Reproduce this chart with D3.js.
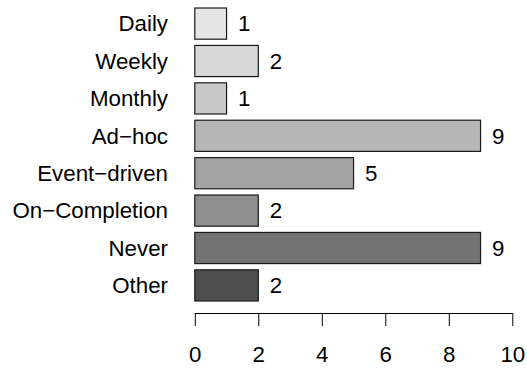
<!DOCTYPE html>
<html><head><meta charset="utf-8">
<script src="https://cdn.jsdelivr.net/npm/d3@7"></script>
<style>body{margin:0;background:#fff}svg{display:block}text{font-family:"Liberation Sans",Arial,sans-serif;fill:#000}</style>
</head><body>
<script>
const categories = ["Daily","Weekly","Monthly","Ad\u2212hoc","Event\u2212driven","On\u2212Completion","Never","Other"];
const counts = [1,2,1,9,5,2,9,2];
const fills = ["#E6E6E6","#D7D7D7","#C8C8C8","#B7B7B7","#A4A4A4","#8E8E8E","#737373","#4D4D4D"];
const tickValues = [0,2,4,6,8,10];

const W=527,H=369,FS=22.3;
const svg=d3.select("body").append("svg").attr("width",W).attr("height",H);
const x=d3.scaleLinear().domain([0,10]).range([194.8,512.3]);
const y=d3.scaleBand().domain(categories).range([4.9,304.1]).paddingInner(0.2/1.2).paddingOuter(0.1/1.2);

svg.selectAll("rect.bar").data(categories).join("rect")
  .attr("x",x(0)).attr("y",d=>y(d)).attr("width",(d,i)=>x(counts[i])-x(0)).attr("height",y.bandwidth())
  .attr("fill",(d,i)=>fills[i]).attr("stroke","#1a1a1a").attr("stroke-width",1.2);

svg.selectAll("text.cat").data(categories).join("text")
  .attr("x",168).attr("y",d=>y(d)+y.bandwidth()/2).attr("dy","0.35em")
  .attr("text-anchor","end").attr("font-size",FS).text(d=>d);

svg.selectAll("text.val").data(categories).join("text")
  .attr("x",(d,i)=>x(counts[i])+11.5).attr("y",d=>y(d)+y.bandwidth()/2).attr("dy","0.35em")
  .attr("font-size",FS).text((d,i)=>counts[i]);

const ax=svg.append("g").attr("transform","translate(0,313)")
  .call(d3.axisBottom(x).tickValues(tickValues).tickSize(13).tickPadding(20).tickFormat(d3.format("d")));
ax.select(".domain").attr("stroke","#000").attr("d",`M${x(0)},0.5H${x(10)}`);
ax.selectAll(".tick line").attr("stroke","#000");
ax.selectAll(".tick text").attr("font-size",FS).attr("font-family","Liberation Sans, Arial, sans-serif").attr("fill","#000");
</script>
</body></html>
